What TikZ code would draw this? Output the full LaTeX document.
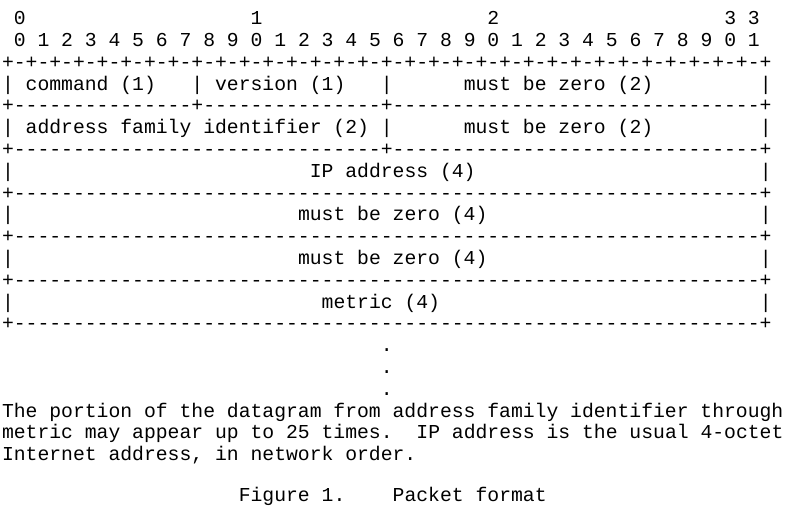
\documentclass[tikz,border=0pt]{standalone}
\usepackage{fontspec}
\setmonofont{Liberation Mono}

\begin{document}
\begin{tikzpicture}[x=11.84pt, y=-21.8pt,
	txt/.style={anchor=base west, inner sep=0pt, outer sep=0pt,
		font=\ttfamily\fontsize{19.73}{21.8}\selectfont}]
	\useasboundingbox (-0.169,-1.133) rectangle (66.30,22.08);
	% bit numbers
	\foreach \c/\d in {1/0,21/1,41/2,61/3,63/3}{
	  \node[txt] (tens\c) at (\c,0) {\d};
	}
	\foreach \b in {0,...,31}{
	  \pgfmathtruncatemacro{\d}{mod(\b,10)}
	  \node[txt] (bit\b) at (2*\b+1,1) {\d};
	}
	% frame
	\node[txt] (top) at (0,2) {+-+-+-+-+-+-+-+-+-+-+-+-+-+-+-+-+-+-+-+-+-+-+-+-+-+-+-+-+-+-+-+-+};
	\node[txt] (sepA) at (0,4) {+---------------+---------------+-------------------------------+};
	\node[txt] (sepB) at (0,6) {+-------------------------------+-------------------------------+};
	\foreach \r in {8,10,12,14}{
	  \node[txt] (sep\r) at (0,\r) {+---------------------------------------------------------------+};
	}
	\foreach \r in {3,5,7,9,11,13}{
	  \node[txt] (lbar\r) at (0,\r) {|};
	  \node[txt] (rbar\r) at (64,\r) {|};
	}
	\node[txt] (barA) at (16,3) {|};
	\node[txt] (barB) at (32,3) {|};
	\node[txt] (barC) at (32,5) {|};
	% fields
	\node[txt] (cmd) at (2,3) {command (1)};
	\node[txt] (ver) at (18,3) {version (1)};
	\node[txt] (mbzA) at (39,3) {must be zero (2)};
	\node[txt] (afi) at (2,5) {address family identifier (2)};
	\node[txt] (mbzB) at (39,5) {must be zero (2)};
	\node[txt] (ip) at (26,7) {IP address (4)};
	\node[txt] (mbzC) at (25,9) {must be zero (4)};
	\node[txt] (mbzD) at (25,11) {must be zero (4)};
	\node[txt] (metric) at (27,13) {metric (4)};
	\foreach \r in {15,16,17}{
	  \node[txt] (dot\r) at (32,\r) {.};
	}
	% note and caption
	\node[txt] (noteA) at (0,18) {The portion of the datagram from address family identifier through};
	\node[txt] (noteB) at (0,19) {metric may appear up to 25 times.};
	\node[txt] (noteC) at (35,19) {IP address is the usual 4-octet};
	\node[txt] (noteD) at (0,20) {Internet address, in network order.};
	\node[txt] (fig) at (20,21.85) {Figure 1.};
	\node[txt] (fmt) at (33,21.85) {Packet format};
\end{tikzpicture}
\end{document}
